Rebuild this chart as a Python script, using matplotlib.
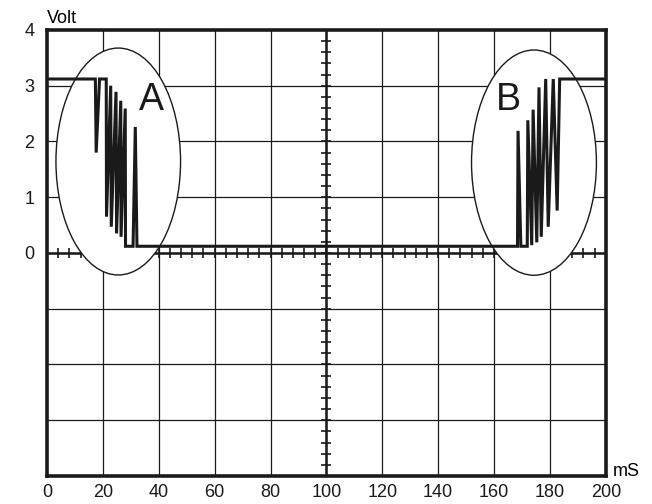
import numpy as np
import matplotlib
matplotlib.use("Agg")
import matplotlib.pyplot as plt
from matplotlib.patches import Ellipse

plt.rcParams['font.family'] = ['Liberation Sans', 'DejaVu Sans']

# signal levels (Volt)
v_high = 3.12
v_low = 0.12

# contact bounce when opening (A): time in mS, voltage
bounce_a_t = [17.3, 17.6, 18.8, 21.2, 21.3, 22.8, 23.0, 24.7, 24.9, 26.4, 26.5, 28.0, 28.1, 30.8, 31.6, 32.2]
bounce_a_v = [3.12, 1.80, 3.12, 3.12, 0.65, 3.00, 0.47, 2.89, 0.35, 2.73, 0.29, 2.59, 0.12, 0.12, 2.26, 0.12]

# contact bounce when closing (B)
bounce_b_t = [168.4, 168.6, 169.6, 171.9, 172.1, 173.5, 174.0, 175.3, 176.1, 176.9, 178.5, 179.4, 181.2, 182.6, 183.5]
bounce_b_v = [0.12, 2.19, 0.12, 0.12, 2.38, 0.14, 2.57, 0.19, 2.97, 0.29, 3.12, 0.47, 3.12, 0.76, 3.12]

x_ticks = [0, 20, 40, 60, 80, 100, 120, 140, 160, 180, 200]
y_ticks = [0, 1, 2, 3, 4]

# ellipse markers: (label, center t, center v, width, height, label t, label v)
marks = [("A", 25.5, 1.64, 44.6, 4.07, 37.4, 2.74),
         ("B", 174.3, 1.62, 44.7, 4.04, 165.3, 2.75)]

t = [0] + bounce_a_t + bounce_b_t + [200]
v = [v_high] + bounce_a_v + bounce_b_v + [v_high]

fig = plt.figure(figsize=(6.52, 5.04), dpi=100)
ax = fig.add_axes([0.0721, 0.0556, 0.857, 0.885])
ax.set_xlim(0, 200)
ax.set_ylim(-4, 4)

# grid
for gx in range(20, 200, 20):
    ax.axvline(gx, color='#1a1a1a', lw=0.9, zorder=1)
for gy in range(-3, 4):
    ax.axhline(gy, color='#1a1a1a', lw=0.9, zorder=1)

# centre cross with small ticks
ax.axhline(0, color='#1a1a1a', lw=1.8, zorder=1.5)
ax.axvline(100, color='#1a1a1a', lw=1.8, zorder=1.5)
ax.vlines(np.arange(4, 200, 4), -0.085, 0.085, color='#1a1a1a', lw=1.2, zorder=1.5)
ax.hlines(np.arange(-3.8, 4, 0.2), 98.2, 101.8, color='#1a1a1a', lw=1.2, zorder=1.5)

for lab, cx, cy, w, h, lx, ly in marks:
    ax.add_patch(Ellipse((cx, cy), w, h, facecolor='white', edgecolor='#1a1a1a', lw=1.0, zorder=2))
    ax.text(lx, ly, lab, fontsize=27, ha='center', va='center', color='#1a1a1a', zorder=4)

ax.plot(t, v, color='#1a1a1a', lw=2.2, zorder=3, solid_joinstyle='miter')

for s in ax.spines.values():
    s.set_linewidth(2.6)
    s.set_color('#1a1a1a')
    s.set_zorder(5)

ax.set_xticks(x_ticks)
ax.set_yticks(y_ticks)
ax.tick_params(length=0, labelsize=13, colors='#1a1a1a')
ax.tick_params(axis='x', pad=6)
ax.tick_params(axis='y', pad=9)

ax.text(0.0, 1.016, "Volt", transform=ax.transAxes, fontsize=13, ha='left', va='baseline')
ax.text(1.0125, 0.0, "mS", transform=ax.transAxes, fontsize=13, ha='left', va='baseline')

fig.savefig("out.png", dpi=100)
